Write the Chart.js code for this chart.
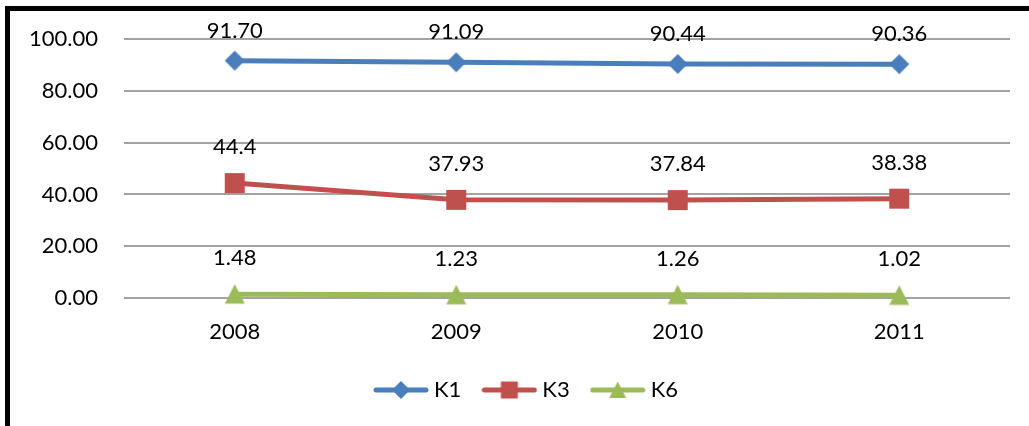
<!DOCTYPE html>
<html>
<head>
<meta charset="utf-8">
<script src="https://cdn.jsdelivr.net/npm/chart.js@4.4.1/dist/chart.umd.min.js"></script>
<style>
    body { margin: 0; background: #fff; }
    #wrap { position: relative; width: 1029px; height: 426px; overflow: hidden; }
    #frame {
        position: absolute; left: 5px; top: 6px; width: 1030px; height: 430px;
        border-left: 5px solid #000; border-top: 5px solid #000;
    }
    #chart { position: absolute; left: 0; top: 0; }
</style>
</head>
<body>
<div id="wrap">
    <div id="frame"></div>
    <canvas id="chart" width="1029" height="426"></canvas>
</div>
<script>
const years = ['2008', '2009', '2010', '2011'];
const k1Values = [91.70, 91.09, 90.44, 90.36];
const k3Values = [44.4, 37.93, 37.84, 38.38];
const k6Values = [1.48, 1.23, 1.26, 1.02];
const k1Labels = ['91.70', '91.09', '90.44', '90.36'];
const k3Labels = ['44.4', '37.93', '37.84', '38.38'];
const k6Labels = ['1.48', '1.23', '1.26', '1.02'];
const yTickLabels = ['0.00', '20.00', '40.00', '60.00', '80.00', '100.00'];

const FONT = 'Lato, "Open Sans", sans-serif';

// draw a marker shape centred on cx, cy
function drawShape(ctx, shape, cx, cy, r) {
    ctx.beginPath();
    if (shape === 'diamond') {
        ctx.moveTo(cx, cy - r);
        ctx.lineTo(cx + r, cy);
        ctx.lineTo(cx, cy + r);
        ctx.lineTo(cx - r, cy);
    } else if (shape === 'square') {
        ctx.rect(cx - r, cy - r, 2 * r, 2 * r);
    } else {
        ctx.moveTo(cx, cy - r);
        ctx.lineTo(cx + r, cy + r * 0.95);
        ctx.lineTo(cx - r, cy + r * 0.95);
    }
    ctx.closePath();
    ctx.fill();
}

function makeMarker(shape, color, r) {
    const c = document.createElement('canvas');
    c.width = 2 * r + 2;
    c.height = 2 * r + 2;
    const ctx = c.getContext('2d');
    ctx.fillStyle = color;
    drawShape(ctx, shape, r + 1, r + 1, r);
    return c;
}

// legend icon: line with the marker on it
function makeLegendIcon(shape, color) {
    const c = document.createElement('canvas');
    c.width = 56;
    c.height = 20;
    const ctx = c.getContext('2d');
    ctx.strokeStyle = color;
    ctx.lineWidth = 5;
    ctx.lineCap = 'round';
    ctx.beginPath();
    ctx.moveTo(3, 10);
    ctx.lineTo(53, 10);
    ctx.stroke();
    ctx.fillStyle = color;
    drawShape(ctx, shape, 28, 10, shape === 'diamond' ? 9 : 8.5);
    return c;
}

const series = [
    { label: 'K1', data: k1Values, text: k1Labels, color: '#4a7ebb', shape: 'diamond', r: 10, offset: -30 },
    { label: 'K3', data: k3Values, text: k3Labels, color: '#c0504d', shape: 'square', r: 10, offset: -36 },
    { label: 'K6', data: k6Values, text: k6Labels, color: '#9bbb59', shape: 'triangle', r: 10, offset: -36 }
];

const valueLabels = {
    id: 'valueLabels',
    afterLayout(chart) {
        // push the legend block a little right, like the original
        chart.legend.left = 47;
    },
    afterDatasetsDraw(chart) {
        const ctx = chart.ctx;
        ctx.save();
        ctx.font = '22px ' + FONT;
        ctx.fillStyle = '#000';
        ctx.textAlign = 'center';
        ctx.textBaseline = 'middle';
        chart.data.datasets.forEach((ds, i) => {
            const meta = chart.getDatasetMeta(i);
            meta.data.forEach((pt, j) => {
                ctx.fillText(ds.valueText[j], pt.x, pt.y + ds.labelOffset);
            });
        });
        ctx.restore();
    }
};

new Chart(document.getElementById('chart'), {
    type: 'line',
    data: {
        labels: years,
        datasets: series.map(s => ({
            label: s.label,
            data: s.data,
            valueText: s.text,
            labelOffset: s.offset,
            borderColor: s.color,
            backgroundColor: s.color,
            borderWidth: 5,
            tension: 0,
            clip: false,
            pointStyle: makeMarker(s.shape, s.color, s.r),
            pointRadius: 10,
            legendIcon: makeLegendIcon(s.shape, s.color)
        }))
    },
    options: {
        responsive: false,
        animation: false,
        devicePixelRatio: 1,
        layout: { padding: { left: 0, right: 19, top: 38, bottom: 15 } },
        plugins: {
            tooltip: { enabled: false },
            legend: {
                position: 'bottom',
                labels: {
                    usePointStyle: true,
                    pointStyleWidth: 44,
                    padding: 26,
                    color: '#000',
                    font: { family: FONT, size: 22 },
                    generateLabels(chart) {
                        const items = Chart.defaults.plugins.legend.labels.generateLabels(chart);
                        items.forEach(it => {
                            it.pointStyle = chart.data.datasets[it.datasetIndex].legendIcon;
                        });
                        return items;
                    }
                }
            }
        },
        scales: {
            x: {
                offset: true,
                grid: { display: false, drawTicks: false },
                border: { display: false },
                ticks: { padding: 21, color: '#000', font: { family: FONT, size: 22 } },
                afterFit(scale) { scale.height = 55; }
            },
            y: {
                min: 0,
                max: 100,
                grid: { color: '#a3a3a3', lineWidth: 2, drawTicks: false },
                border: { display: false },
                ticks: {
                    stepSize: 20,
                    padding: 26,
                    color: '#000',
                    font: { family: FONT, size: 22 },
                    callback: (v, i) => yTickLabels[i]
                },
                afterFit(scale) { scale.width = 124; }
            }
        }
    },
    plugins: [valueLabels]
});
</script>
</body>
</html>
